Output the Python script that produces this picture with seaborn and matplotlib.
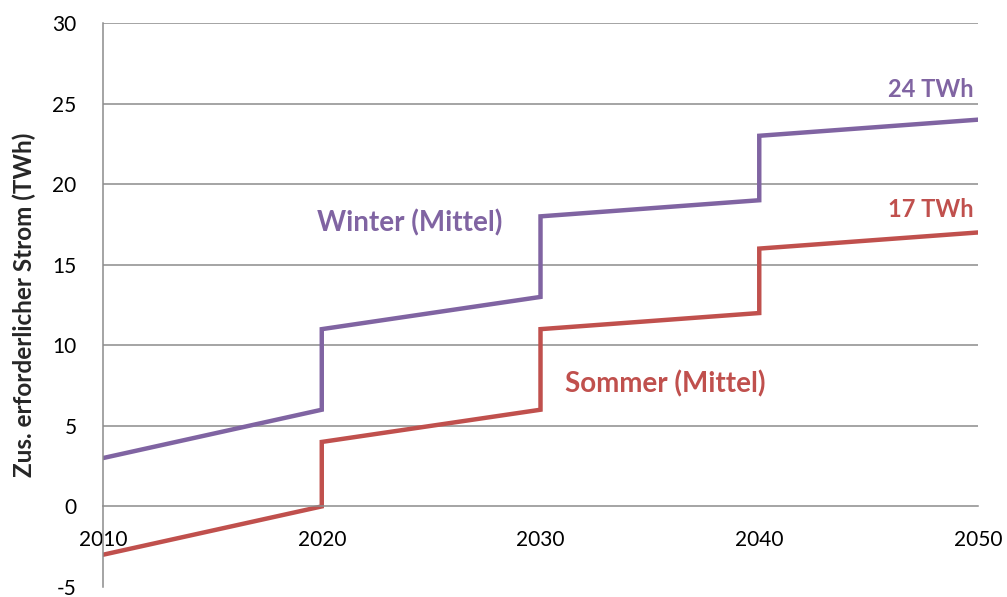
import matplotlib
matplotlib.use("Agg")
import matplotlib.pyplot as plt
import seaborn as sns
import pandas as pd

# Daten (Stufenverlauf: doppelte Jahre = Sprung)
years = [2010, 2020, 2020, 2030, 2030, 2040, 2040, 2050]
winter = [3, 6, 11, 13, 18, 19, 23, 24]
sommer = [-3, 0, 4, 6, 11, 12, 16, 17]
series_names = ["Winter (Mittel)", "Sommer (Mittel)"]
end_labels = ["24 TWh", "17 TWh"]
x_ticks = [2010, 2020, 2030, 2040, 2050]
y_ticks = [-5, 0, 5, 10, 15, 20, 25, 30]

colors = {"Winter (Mittel)": "#8064A2", "Sommer (Mittel)": "#C0504D"}

df = pd.concat([
    pd.DataFrame({"Jahr": years, "TWh": winter, "Reihe": series_names[0]}),
    pd.DataFrame({"Jahr": years, "TWh": sommer, "Reihe": series_names[1]}),
])

sns.set_style("white")
plt.rcParams["font.family"] = ["Lato", "DejaVu Sans"]
plt.rcParams["axes.unicode_minus"] = False

fig = plt.figure(figsize=(10.07, 5.97), dpi=100)
ax = fig.add_axes([0.1023, 0.0168, 0.8689, 0.9447])

sns.lineplot(data=df, x="Jahr", y="TWh", hue="Reihe", units="Reihe", estimator=None,
             sort=False, palette=colors, linewidth=3.2, legend=False, ax=ax,
             solid_capstyle="round", solid_joinstyle="miter")

grid_c = "#8C8C8C"
ax.set_xlim(2010, 2050)
ax.set_ylim(-5, 30)
ax.set_xticks(x_ticks)
ax.set_yticks(y_ticks)
for yv in y_ticks:
    if yv not in (-5, 0):
        ax.axhline(yv, color=grid_c, lw=1.1, zorder=0)

for s in ["top", "right"]:
    ax.spines[s].set_visible(False)
ax.spines["bottom"].set_position(("data", 0))
ax.spines["bottom"].set_color(grid_c)
ax.spines["bottom"].set_linewidth(1.1)
ax.spines["left"].set_color(grid_c)
ax.spines["left"].set_linewidth(1.1)

ax.tick_params(axis="both", direction="out", length=6, width=1.1, color=grid_c,
               labelsize=15, labelcolor="black")
ax.tick_params(axis="y", pad=13)
ax.tick_params(axis="x", pad=11)
ax.set_xlabel("")
ax.set_ylabel("Zus. erforderlicher Strom (TWh)", fontsize=17.5, fontweight="bold", labelpad=12)

ax.text(2024.0, 17.6, series_names[0], color=colors[series_names[0]], fontsize=20,
        fontweight="bold", ha="center", va="center")
ax.text(2035.7, 7.6, series_names[1], color=colors[series_names[1]], fontsize=20,
        fontweight="bold", ha="center", va="center")
ax.text(2049.8, 25.9, end_labels[0], color=colors[series_names[0]], fontsize=17,
        fontweight="bold", ha="right", va="center")
ax.text(2049.8, 18.4, end_labels[1], color=colors[series_names[1]], fontsize=17,
        fontweight="bold", ha="right", va="center")

fig.savefig("out.png", dpi=100)
